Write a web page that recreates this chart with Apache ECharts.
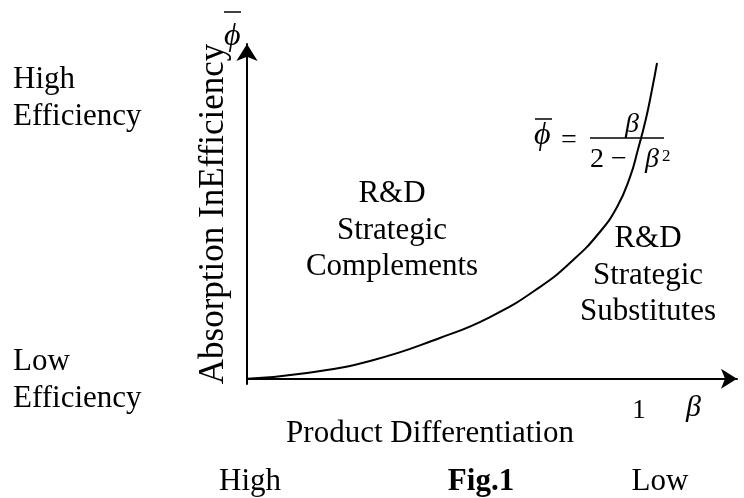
<!DOCTYPE html>
<html lang="en">
<head>
  <meta charset="UTF-8">
  <title>Fig.1</title>
  <script src="https://cdn.jsdelivr.net/npm/echarts@6/dist/echarts.min.js"></script>
  <style>
    html, body{
      margin: 0;
      padding: 0;
      background: #fff;
    }
    #myChart{
      width: 744px;
      height: 498px;
    }
  </style>
</head>
<body>
  <div id="myChart"></div>
</body>
<script>
// curve phi = beta / (2 - beta^2)
let betaVals = [0, 0.153, 0.321, 0.492, 0.620, 0.747, 0.832, 0.898, 0.944, 0.977, 0.997, 1.018, 1.033, 1.046];
let phiVals  = [0, 0.021, 0.069, 0.152, 0.230, 0.342, 0.443, 0.544, 0.641, 0.753, 0.854, 0.973, 1.078, 1.179];
let xTicks = [1];            // only labelled tick on the beta axis
let yAxisName = 'Absorption InEfficiency';

let serif = '"Liberation Serif", "DejaVu Serif", serif';
let fs = 31;

function txt(x, y, text, extra) {
    return {
        type: 'text',
        x: x,
        y: y,
        style: Object.assign({
            text: text,
            font: fs + 'px ' + serif,
            fill: '#000',
            align: 'left',
            verticalAlign: 'top',
            lineHeight: 37
        }, extra || {})
    };
}
function bar(x1, x2, y) {
    return {
        type: 'line',
        shape: { x1: x1, y1: y, x2: x2, y2: y },
        style: { stroke: '#000', lineWidth: 1.5 }
    };
}

let myChart = echarts.init(document.getElementById('myChart'));
let option = {
    backgroundColor: '#fff',
    animation: false,
    grid: {
        left: 247,
        right: 7,
        top: 44,
        bottom: 114
    },
    xAxis: {
        type: 'value',
        min: 0,
        max: 1.25,
        interval: 0.25,
        axisLine: {
            onZero: true,
            symbol: ['none', 'arrow'],
            symbolSize: [15, 16],
            lineStyle: { color: '#000', width: 2 }
        },
        axisTick: { show: false },
        splitLine: { show: false },
        axisLabel: {
            margin: 13,
            color: '#000',
            fontFamily: serif,
            fontSize: 27,
            formatter: function (v) {
                return xTicks.indexOf(v) >= 0 ? String(v) : '';
            }
        }
    },
    yAxis: {
        type: 'value',
        min: -0.02,
        max: 1.25,
        name: yAxisName,
        nameLocation: 'middle',
        nameRotate: 90,
        nameGap: 16,
        nameTextStyle: {
            color: '#000',
            fontFamily: serif,
            fontSize: 35
        },
        axisLine: {
            symbol: ['none', 'arrow'],
            symbolSize: [16, 17],
            lineStyle: { color: '#000', width: 2 }
        },
        axisTick: { show: false },
        axisLabel: { show: false },
        splitLine: { show: false }
    },
    series: [
        {
            type: 'line',
            smooth: true,
            symbol: 'none',
            lineStyle: { color: '#000', width: 2 },
            data: betaVals.map(function (b, i) { return [b, phiVals[i]]; })
        }
    ],
    graphic: {
        elements: [
            // left side efficiency labels
            txt(13, 61, 'High\nEfficiency'),
            txt(13, 343, 'Low\nEfficiency'),
            // regions
            txt(392, 176, 'R&D\nStrategic\nComplements', { align: 'center', lineHeight: 36.5 }),
            txt(648, 221, 'R&D\nStrategic\nSubstitutes', { align: 'center', lineHeight: 36.5 }),
            // axis symbols
            txt(224, 18, 'ϕ', { font: 'italic 32px ' + serif }),
            bar(224, 241, 12),
            txt(686, 390, 'β', { font: 'italic 30px ' + serif }),
            // formula
            txt(534, 117, 'ϕ', { font: 'italic 32px ' + serif }),
            bar(535, 552, 119),
            txt(561, 122, '=', { font: '28px ' + serif }),
            bar(590, 664, 138),
            txt(625, 106, 'β', { font: 'italic 28px ' + serif }),
            txt(590, 141, '2 −', { font: '28px ' + serif }),
            txt(645, 141, 'β', { font: 'italic 28px ' + serif }),
            txt(662, 138, '2', { font: '17px ' + serif }),
            // bottom captions
            txt(430, 415, 'Product Differentiation', { align: 'center' }),
            txt(250, 463, 'High', { align: 'center' }),
            txt(481, 463, 'Fig.1', { align: 'center', font: 'bold 31px ' + serif }),
            txt(660, 463, 'Low', { align: 'center' })
        ]
    }
};
myChart.setOption(option);
</script>
</html>
